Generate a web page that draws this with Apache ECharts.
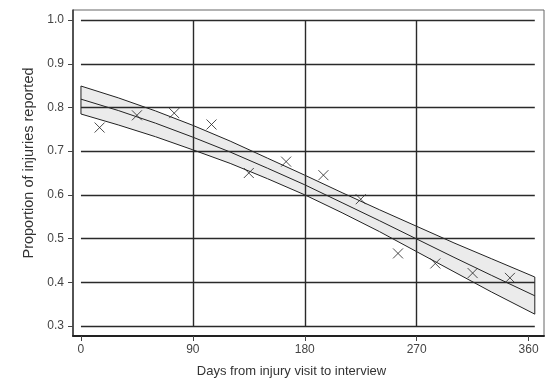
<!DOCTYPE html>
<html>
<head>
<meta charset="utf-8">
<script src="https://cdn.jsdelivr.net/npm/echarts@6/dist/echarts.min.js"></script>
<style>html,body{margin:0;padding:0;background:#fff;}#c{width:552px;height:383px;}</style>
</head>
<body>
<div id="c"></div>
<script>
// Fitted curve and confidence band (days from injury visit)
var curveDays = [0, 30, 60, 90, 120, 150, 180, 210, 240, 270, 300, 330, 365];
var fitProp   = [0.819, 0.793, 0.764, 0.732, 0.698, 0.661, 0.623, 0.582, 0.541, 0.499, 0.457, 0.416, 0.369];
var upperProp = [0.849, 0.822, 0.792, 0.759, 0.723, 0.684, 0.645, 0.605, 0.566, 0.528, 0.490, 0.454, 0.412];
var lowerProp = [0.785, 0.760, 0.733, 0.703, 0.672, 0.637, 0.600, 0.559, 0.516, 0.470, 0.424, 0.378, 0.327];

// Observed proportions (monthly)
var obsDays = [15, 45, 75, 105, 135, 165, 195, 225, 255, 285, 315, 345];
var obsProp = [0.754, 0.782, 0.787, 0.761, 0.650, 0.676, 0.645, 0.590, 0.466, 0.443, 0.421, 0.410];

// Axis ticks and gridlines
var xTicks = [0, 90, 180, 270, 360];
var yTicks = [0.3, 0.4, 0.5, 0.6, 0.7, 0.8, 0.9, 1.0];
var xGrid = [90, 180, 270];
var yGrid = [0.3, 0.4, 0.5, 0.6, 0.7, 0.8, 0.9, 1.0];
var gridXRange = [0, 365];
var gridYRange = [0.3, 1.0];

var chart = echarts.init(document.getElementById('c'));

var gridLines = [];
yGrid.forEach(function (v) {
  gridLines.push([{ coord: [gridXRange[0], v] }, { coord: [gridXRange[1], v] }]);
});
xGrid.forEach(function (v) {
  gridLines.push([{ coord: [v, gridYRange[0]] }, { coord: [v, gridYRange[1]] }]);
});

var fitData = curveDays.map(function (d, i) { return [d, fitProp[i]]; });
var obsData = obsDays.map(function (d, i) { return [d, obsProp[i]]; });

var font = 'Liberation Sans, Arial, sans-serif';

chart.setOption({
  animation: false,
  backgroundColor: '#fff',
  grid: {
    left: 73, top: 10, right: 8, bottom: 46,
    show: true, borderColor: '#666', borderWidth: 1, backgroundColor: 'transparent'
  },
  xAxis: {
    type: 'value', min: -6.4, max: 372.4,
    name: 'Days from injury visit to interview',
    nameLocation: 'middle', nameGap: 29,
    nameTextStyle: { color: '#333', fontSize: 13, fontFamily: font, padding: [0, 34, 0, 0] },
    axisLine: { show: true, onZero: false, lineStyle: { color: '#222', width: 2 } },
    axisTick: { show: true, customValues: xTicks, length: 5, lineStyle: { color: '#444', width: 1 } },
    axisLabel: { customValues: xTicks, color: '#444', fontSize: 12, fontFamily: font, margin: 8 },
    splitLine: { show: false }
  },
  yAxis: {
    type: 'value', min: 0.277, max: 1.023,
    name: 'Proportion of injuries reported',
    nameLocation: 'middle', nameGap: 35,
    nameTextStyle: { color: '#333', fontSize: 14.5, fontFamily: font, padding: [0, 0, 0, 20] },
    axisLine: { show: true, onZero: false, lineStyle: { color: '#333', width: 1.5 } },
    axisTick: { show: true, customValues: yTicks, length: 5, lineStyle: { color: '#444', width: 1 } },
    axisLabel: {
      customValues: yTicks, color: '#444', fontSize: 12, fontFamily: font, margin: 9,
      formatter: function (v) { return v.toFixed(1); }
    },
    splitLine: { show: false }
  },
  series: [
    {
      type: 'line', z: 1, data: [], silent: true,
      markLine: {
        silent: true, symbol: ['none', 'none'], label: { show: false },
        lineStyle: { color: '#2a2a2a', width: 1.4, type: 'solid' },
        emphasis: { disabled: true },
        data: gridLines
      }
    },
    {
      type: 'custom', z: 2, silent: true,
      data: [[curveDays[0], fitProp[0]]],
      encode: { x: 0, y: 1 },
      renderItem: function (params, api) {
        var pts = [];
        for (var i = 0; i < curveDays.length; i++) pts.push(api.coord([curveDays[i], upperProp[i]]));
        for (var j = curveDays.length - 1; j >= 0; j--) pts.push(api.coord([curveDays[j], lowerProp[j]]));
        return {
          type: 'polygon',
          shape: { points: pts },
          style: { fill: 'rgba(0,0,0,0.08)', stroke: '#222', lineWidth: 1 }
        };
      }
    },
    {
      type: 'line', z: 3, data: fitData, showSymbol: false, silent: true,
      lineStyle: { color: '#222', width: 1 }
    },
    {
      type: 'scatter', z: 4, data: obsData, silent: true,
      symbol: 'path://M0,0L10,10M10,0L0,10', symbolSize: 10,
      itemStyle: { color: 'none', borderColor: '#222', borderWidth: 1 }
    }
  ]
});
</script>
</body>
</html>
